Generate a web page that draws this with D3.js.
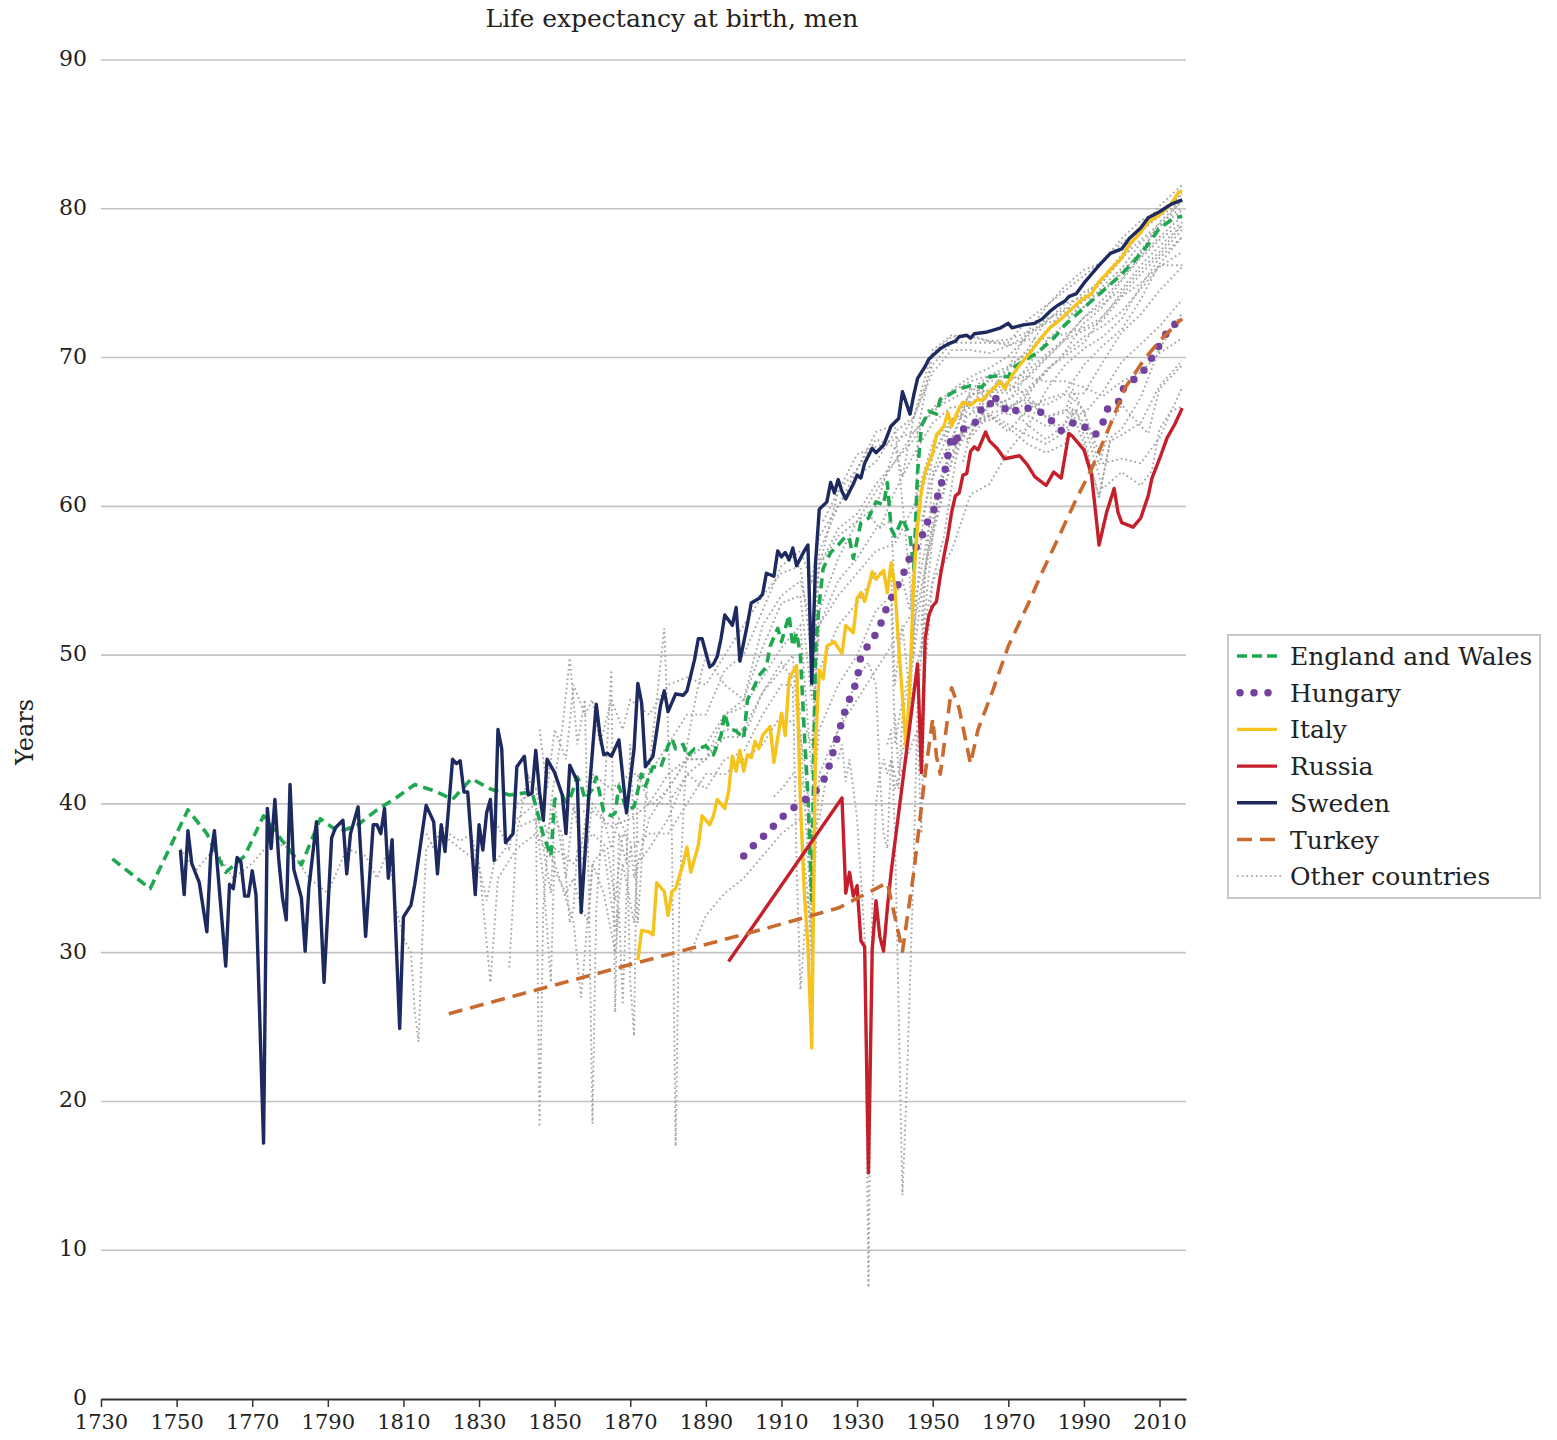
<!DOCTYPE html>
<html>
<head>
<meta charset="utf-8">
<script src="https://cdn.jsdelivr.net/npm/d3@7"></script>
<style>
  body { margin: 0; background: #fff; }
  svg text { font-family: "DejaVu Serif", serif; fill: #222; }
</style>
</head>
<body>
<svg width="1557" height="1440"></svg>
<script>
// ---- data: [year, life expectancy of men] ----
var sweden = [[1751,36.9],[1752,33.9],[1753,38.2],[1754,36.0],[1756,34.7],[1758,31.4],[1759,36.5],[1760,38.2],[1763,29.1],[1764,34.6],[1765,34.3],[1766,36.4],[1767,36.1],[1768,33.8],[1769,33.8],[1770,35.5],[1771,33.9],[1773,17.2],[1774,39.7],[1775,37.0],[1776,40.3],[1777,36.3],[1778,33.7],[1779,32.2],[1780,41.3],[1781,35.6],[1783,33.7],[1784,30.1],[1785,34.4],[1787,38.8],[1789,28.0],[1791,37.7],[1792,38.4],[1794,38.9],[1795,35.3],[1796,38.0],[1798,39.8],[1800,31.1],[1802,38.6],[1803,38.6],[1804,38.0],[1805,39.7],[1806,35.0],[1807,37.6],[1809,24.9],[1810,32.4],[1812,33.2],[1813,34.6],[1816,39.9],[1818,38.8],[1819,35.3],[1820,38.6],[1821,36.8],[1823,43.0],[1824,42.7],[1825,42.9],[1826,40.8],[1827,40.8],[1829,33.9],[1830,38.6],[1831,36.9],[1832,39.4],[1833,40.3],[1834,36.2],[1835,45.0],[1836,43.7],[1837,37.4],[1839,38.0],[1840,42.5],[1842,43.2],[1843,40.6],[1844,40.7],[1845,43.6],[1846,40.8],[1847,38.9],[1848,43.0],[1850,42.1],[1852,40.6],[1853,38.0],[1854,42.6],[1856,41.5],[1857,32.7],[1859,40.4],[1861,46.7],[1862,44.6],[1863,43.3],[1864,43.4],[1865,43.2],[1867,44.3],[1869,39.4],[1871,43.7],[1872,48.1],[1873,46.8],[1874,42.5],[1876,43.2],[1878,46.6],[1879,47.6],[1880,46.2],[1882,47.4],[1884,47.3],[1885,47.6],[1887,49.7],[1888,51.1],[1889,51.1],[1891,49.2],[1892,49.4],[1893,49.9],[1894,51.1],[1895,52.7],[1897,52.0],[1898,53.2],[1899,49.6],[1901,52.1],[1902,53.5],[1904,53.8],[1905,54.1],[1906,55.5],[1908,55.3],[1909,57.0],[1910,56.6],[1911,56.9],[1912,56.4],[1913,57.2],[1914,56.0],[1916,57.0],[1917,57.4],[1918,48.1],[1919,56.2],[1920,59.8],[1922,60.3],[1923,61.6],[1924,60.9],[1925,61.8],[1926,61.0],[1927,60.5],[1929,61.5],[1930,62.1],[1931,61.9],[1932,62.9],[1934,63.9],[1935,63.6],[1937,64.1],[1939,65.4],[1941,65.9],[1942,67.7],[1944,66.2],[1945,67.5],[1946,68.6],[1948,69.4],[1949,69.9],[1952,70.6],[1954,70.9],[1956,71.1],[1957,71.4],[1959,71.5],[1960,71.3],[1961,71.6],[1964,71.7],[1968,72.0],[1970,72.3],[1971,72.0],[1974,72.2],[1977,72.3],[1979,72.6],[1981,73.1],[1983,73.5],[1985,73.8],[1986,74.1],[1988,74.3],[1990,75.0],[1992,75.6],[1994,76.2],[1997,77.0],[2000,77.3],[2002,78.0],[2005,78.7],[2007,79.4],[2010,79.8],[2013,80.3],[2016,80.6]];

var englandWales = [[1733,36.3],[1743,34.3],[1753,39.6],[1758,38.0],[1763,35.4],[1768,36.5],[1773,39.2],[1778,37.5],[1783,35.9],[1788,39.0],[1793,38.1],[1798,38.6],[1803,39.6],[1808,40.4],[1813,41.3],[1818,40.9],[1823,40.3],[1828,41.7],[1833,41.0],[1838,40.6],[1844,40.8],[1846,38.9],[1847,37.9],[1849,36.5],[1850,40.3],[1852,40.6],[1853,40.1],[1854,40.3],[1856,41.8],[1857,41.3],[1858,40.3],[1860,41.0],[1861,41.8],[1863,39.4],[1865,39.2],[1866,39.4],[1867,41.2],[1869,39.6],[1871,39.8],[1873,42.0],[1874,41.2],[1876,42.5],[1878,42.4],[1880,43.9],[1881,44.4],[1882,43.7],[1884,44.0],[1885,43.2],[1887,43.7],[1888,43.7],[1890,43.9],[1892,43.3],[1894,44.6],[1895,46.1],[1896,45.1],[1898,44.9],[1900,44.4],[1901,47.0],[1903,48.0],[1904,48.6],[1906,49.2],[1907,50.6],[1909,51.8],[1910,50.9],[1912,52.7],[1913,50.6],[1914,51.5],[1915,50.0],[1916,45.0],[1917,40.5],[1918,33.5],[1919,50.5],[1920,53.5],[1921,55.8],[1923,56.9],[1925,57.4],[1927,58.0],[1928,57.8],[1929,56.5],[1931,58.9],[1933,59.2],[1935,60.3],[1937,60.1],[1938,61.6],[1939,58.5],[1940,58.0],[1942,59.2],[1944,58.0],[1945,55.8],[1946,62.3],[1947,65.4],[1949,66.4],[1951,66.2],[1952,67.2],[1955,67.6],[1957,67.9],[1960,68.1],[1963,68.0],[1965,68.7],[1968,68.8],[1970,68.7],[1971,69.3],[1975,69.9],[1978,70.4],[1982,71.3],[1985,72.2],[1989,73.1],[1992,73.8],[1996,74.7],[2000,75.6],[2003,76.4],[2007,77.6],[2010,78.7],[2014,79.4],[2016,79.5]];

var hungary = [[1900,36.5],[1903,37.3],[1906,38.0],[1909,38.8],[1911,39.3],[1914,39.9],[1917,40.4],[1920,41.1],[1922,42.0],[1923,42.9],[1925,44.7],[1927,46.4],[1930,48.3],[1931,50.0],[1934,51.0],[1936,51.9],[1937,52.7],[1939,53.8],[1940,54.4],[1942,55.2],[1943,56.1],[1945,57.0],[1947,57.8],[1948,58.7],[1950,59.5],[1951,60.4],[1952,61.3],[1953,62.1],[1954,63.4],[1955,64.8],[1956,64.0],[1957,65.2],[1959,65.2],[1962,65.8],[1963,66.7],[1965,66.7],[1966,67.5],[1968,66.8],[1971,66.2],[1973,66.7],[1975,66.6],[1978,66.5],[1980,65.9],[1982,65.7],[1984,65.1],[1987,65.6],[1988,65.7],[1991,65.2],[1993,64.8],[1995,65.6],[1996,66.5],[1999,66.9],[2000,67.8],[2003,68.5],[2005,68.8],[2007,69.6],[2009,70.4],[2011,71.3],[2013,72.1],[2016,72.5]];

var italy = [[1872,29.5],[1873,31.5],[1875,31.4],[1876,31.2],[1877,34.7],[1879,34.1],[1880,32.5],[1881,34.1],[1882,34.3],[1884,36.0],[1885,37.1],[1886,35.4],[1888,37.2],[1889,39.2],[1891,38.6],[1892,39.2],[1893,40.3],[1895,39.7],[1896,40.8],[1897,43.2],[1898,42.2],[1899,43.6],[1900,42.2],[1901,43.3],[1902,43.1],[1903,44.2],[1904,43.7],[1905,44.6],[1907,45.2],[1908,42.8],[1910,46.1],[1911,44.6],[1912,48.4],[1914,49.3],[1915,40.2],[1916,34.2],[1917,30.5],[1918,23.6],[1919,44.0],[1920,49.0],[1921,48.4],[1922,50.6],[1924,50.9],[1926,50.1],[1927,52.0],[1929,51.5],[1930,53.8],[1931,54.2],[1932,53.6],[1934,55.6],[1935,55.1],[1937,55.7],[1938,54.2],[1939,56.2],[1940,54.6],[1941,50.6],[1943,43.7],[1944,48.4],[1945,55.1],[1946,58.7],[1947,61.0],[1948,62.3],[1950,63.6],[1951,64.8],[1953,65.4],[1954,66.3],[1955,65.4],[1957,66.6],[1958,67.0],[1960,66.8],[1962,67.2],[1963,67.1],[1965,67.7],[1966,67.9],[1968,68.4],[1969,67.9],[1971,68.8],[1973,69.5],[1976,70.4],[1978,71.1],[1981,72.0],[1984,72.6],[1986,73.1],[1989,73.8],[1992,74.3],[1994,75.1],[1997,75.9],[2000,76.7],[2002,77.6],[2005,78.4],[2007,79.1],[2010,79.6],[2013,80.3],[2015,81.1],[2016,81.2]];

var russia = [[1896,29.4],[1926,40.4],[1927,34.0],[1928,35.4],[1929,33.8],[1930,34.5],[1931,30.8],[1932,30.4],[1933,15.2],[1934,30.2],[1935,33.5],[1936,31.1],[1937,30.1],[1938,33.0],[1939,35.4],[1946,49.4],[1947,42.1],[1948,51.1],[1949,52.7],[1950,53.3],[1951,53.6],[1952,55.3],[1953,56.7],[1954,58.0],[1955,59.6],[1956,60.7],[1957,60.9],[1958,62.1],[1959,62.2],[1960,63.7],[1961,64.0],[1962,63.8],[1964,65.0],[1965,64.4],[1967,63.9],[1969,63.2],[1971,63.3],[1973,63.4],[1975,62.8],[1977,62.0],[1978,61.8],[1980,61.4],[1982,62.3],[1983,62.1],[1984,61.9],[1986,64.9],[1987,64.7],[1990,63.8],[1992,62.1],[1993,59.8],[1994,57.4],[1996,59.6],[1998,61.2],[1999,59.6],[2000,58.9],[2003,58.6],[2004,58.9],[2005,59.2],[2007,60.7],[2008,61.9],[2010,63.2],[2012,64.6],[2014,65.5],[2016,66.6]];

var turkey = [[1822,25.9],[1870,29.2],[1904,31.5],[1925,33.0],[1938,34.7],[1942,30.1],[1945,35.4],[1948,42.0],[1950,45.7],[1951,43.2],[1952,42.0],[1955,47.8],[1957,46.4],[1960,42.7],[1962,45.0],[1966,47.7],[1970,50.6],[1975,53.3],[1979,55.6],[1984,58.3],[1988,60.5],[1992,62.5],[1997,65.5],[2001,68.0],[2006,69.9],[2010,71.1],[2015,72.4],[2016,72.6]];

// other countries (grey dotted)
var finland = [[1751,37],[1755,35.5],[1760,37],[1765,35],[1770,36],[1775,37.5],[1780,37],[1785,35],[1790,34],[1795,37],[1800,36.5],[1803,35],[1806,37],[1808,33],[1810,31],[1812,30],[1813,26],[1814,24],[1815,31],[1816,37],[1820,38],[1825,37],[1830,36],[1833,28],[1835,35],[1840,37],[1845,38],[1850,36],[1855,32],[1857,27],[1860,36],[1863,34],[1866,30],[1867,33],[1868,26.5],[1869,34],[1870,37],[1875,38],[1880,38],[1885,40],[1890,42],[1895,42],[1900,43],[1905,44],[1910,46],[1915,45],[1918,32],[1919,42],[1920,45],[1925,48],[1930,50],[1935,53],[1939,54],[1940,44],[1942,47],[1944,49],[1945,52],[1950,58.5],[1955,63],[1960,65.5],[1965,65.8],[1970,66.5],[1975,67.4],[1980,69.2],[1985,70.1],[1990,71],[1995,72.8],[2000,74.2],[2005,75.6],[2010,76.9],[2016,78.6]];
var denmark = [[1835,38.5],[1838,37],[1840,40],[1845,41],[1848,38],[1850,40],[1853,35],[1855,40],[1857,37],[1860,42],[1865,41],[1870,42],[1875,42],[1880,44],[1885,46],[1890,46],[1895,49],[1900,50],[1905,53],[1910,56],[1915,57],[1918,55],[1920,58],[1925,60],[1930,62],[1935,63],[1940,65],[1945,66],[1950,69],[1955,70.5],[1960,70.5],[1965,70.3],[1970,70.8],[1975,71.2],[1980,71.3],[1985,71.6],[1990,72],[1995,72.7],[2000,74.4],[2005,75.9],[2010,77.1],[2016,78.9]];
var norway = [[1846,45],[1848,41],[1850,45],[1853,43],[1855,48],[1858,46],[1860,47],[1862,44],[1865,47],[1868,45],[1870,47],[1875,46],[1880,48],[1885,48.5],[1890,48],[1895,50],[1900,52],[1905,54],[1910,55.5],[1915,56],[1918,50],[1920,57],[1925,60],[1930,62.5],[1935,64.5],[1940,64],[1942,62],[1945,66],[1950,70.5],[1955,71.5],[1960,71.4],[1965,71.1],[1970,71.2],[1975,71.7],[1980,72.3],[1985,72.7],[1990,73.4],[1995,74.8],[2000,76],[2005,77.7],[2010,78.8],[2016,80.6]];
var iceland = [[1838,29],[1840,38],[1843,42],[1845,40],[1846,18.3],[1847,33],[1849,40],[1852,45],[1854,49.8],[1856,44],[1858,47],[1859,35],[1860,18.5],[1861,33],[1863,40],[1865,49],[1866,26],[1867,38],[1869,36],[1870,44],[1872,32],[1874,40],[1877,47],[1879,51.8],[1881,38],[1882,17],[1883,34],[1885,44],[1888,48],[1890,50],[1895,48],[1900,47],[1905,52],[1910,54],[1915,55],[1918,52],[1920,56],[1925,58],[1930,59],[1935,60],[1940,64],[1945,66],[1950,69.5],[1955,71],[1960,71],[1965,71],[1970,71],[1975,72.5],[1980,73.5],[1985,74.5],[1990,75.5],[1995,76.5],[2000,78],[2005,79.2],[2010,79.8],[2016,81]];
var france = [[1816,38],[1818,37],[1820,38.5],[1822,38],[1825,37.5],[1828,38],[1832,33.5],[1834,36],[1837,37],[1840,39],[1845,40],[1847,37],[1849,34],[1850,39],[1852,38],[1854,32],[1855,33],[1856,37],[1858,36],[1860,40],[1863,39],[1865,37],[1867,39],[1869,38],[1870,28],[1871,24.4],[1872,42],[1875,40],[1880,40],[1885,42],[1890,41],[1895,43],[1900,43.5],[1905,46],[1910,48],[1913,48],[1914,36],[1915,27.5],[1916,31],[1917,34],[1918,29],[1919,44],[1920,49],[1925,52],[1930,53.5],[1935,55.5],[1939,55.5],[1940,48],[1942,52],[1944,47],[1945,51],[1947,58],[1950,63.5],[1955,65.5],[1960,67],[1965,67.6],[1970,68.4],[1975,69.1],[1980,70.2],[1985,71.3],[1990,72.7],[1995,73.9],[2000,75.3],[2005,76.8],[2010,78.1],[2016,79.5]];
var netherlands = [[1850,35.5],[1853,34],[1855,35],[1857,33],[1859,32],[1860,36],[1863,37],[1866,31.5],[1868,36],[1871,32],[1872,36],[1875,37],[1880,39],[1885,42],[1890,43],[1895,46],[1900,47],[1905,50.5],[1910,53.5],[1915,54],[1918,47],[1920,56],[1925,61],[1930,62.5],[1935,65],[1940,65.5],[1944,55],[1945,50],[1946,65],[1950,70.3],[1955,71.4],[1960,71.5],[1965,71.1],[1970,70.8],[1975,71.5],[1980,72.6],[1985,73],[1990,73.8],[1995,74.6],[2000,75.6],[2005,77.2],[2010,78.8],[2016,79.9]];
var belgium = [[1841,38.5],[1845,39],[1847,35],[1849,28],[1850,37],[1855,36],[1860,38],[1864,37],[1866,33.5],[1868,38],[1870,37.5],[1871,35],[1875,39],[1880,41],[1885,43],[1890,43],[1895,45],[1900,45],[1905,47.5],[1910,49],[1913,50],[1914,46],[1916,43],[1918,38],[1919,48],[1920,52],[1925,55],[1930,56.5],[1935,58.5],[1939,59],[1940,54],[1942,55],[1944,53],[1946,60],[1950,63.5],[1955,65.8],[1960,67.5],[1965,67.8],[1970,67.8],[1975,68.6],[1980,69.9],[1985,71.2],[1990,72.7],[1995,73.6],[2000,74.6],[2005,76.2],[2010,77.5],[2016,78.9]];
var switzerland = [[1876,40],[1880,41],[1885,43],[1890,44],[1895,46],[1900,46.5],[1905,48.5],[1910,50.5],[1915,52],[1918,42],[1919,50],[1920,53],[1925,56.5],[1930,59],[1935,61],[1940,63],[1945,64.5],[1950,66.6],[1955,67.8],[1960,68.7],[1965,69.3],[1970,70.1],[1975,71.4],[1980,72.4],[1985,73.6],[1990,74.1],[1995,75.4],[2000,76.9],[2005,78.6],[2010,80.2],[2016,81.6]];
var spain = [[1908,40.5],[1910,41],[1913,42],[1915,41.5],[1917,41],[1918,30],[1919,38.5],[1920,39],[1922,42],[1925,45],[1928,47],[1930,48.5],[1933,49.5],[1935,48],[1936,42],[1937,38],[1938,37],[1939,43],[1941,41],[1942,46],[1945,50],[1947,54],[1950,59],[1955,64.5],[1960,67.3],[1965,68.6],[1970,69.2],[1975,70.5],[1980,72.5],[1985,73.3],[1990,73.4],[1995,74.4],[2000,75.8],[2005,77],[2010,79.1],[2016,80.5]];
var scotland = [[1855,39.5],[1860,39.5],[1865,38.5],[1870,39],[1875,40],[1880,42],[1885,43],[1890,43],[1895,44.5],[1900,44.5],[1905,47.5],[1910,49.5],[1914,48],[1915,46],[1918,44],[1920,52],[1925,54],[1930,55.5],[1935,57],[1940,57.5],[1945,60],[1950,64.3],[1955,65.8],[1960,66.2],[1965,66.7],[1970,67.2],[1975,67.9],[1980,69.1],[1985,70.3],[1990,71.4],[1995,72.1],[2000,73.1],[2005,74.6],[2010,76.1],[2016,77.1]];
var slovenia = [[1886,30],[1890,32.5],[1895,34],[1900,35],[1905,36.5],[1910,38],[1915,39],[1918,31],[1920,42],[1925,45],[1930,47],[1935,49],[1940,51],[1945,53],[1950,60],[1955,63.5],[1960,65.5],[1965,66.1],[1970,65],[1975,66.5],[1980,67.2],[1985,67.6],[1990,69.5],[1995,70.8],[2000,71.9],[2005,73.9],[2010,76.3],[2016,78.1]];
var japan = [[1947,50.1],[1948,55.6],[1950,58],[1952,61.9],[1955,63.6],[1958,65],[1960,65.3],[1965,67.7],[1970,69.3],[1975,71.7],[1980,73.4],[1985,74.8],[1990,75.9],[1995,76.4],[2000,77.7],[2005,78.6],[2010,79.6],[2016,81]];
var usa = [[1933,59.5],[1936,58.5],[1940,61],[1945,63.5],[1950,65.6],[1955,66.7],[1960,66.6],[1965,66.8],[1970,67.1],[1975,68.8],[1980,70],[1985,71.2],[1990,71.8],[1995,72.5],[2000,74.1],[2005,75],[2010,76.2],[2016,76.2]];
var canada = [[1921,56.5],[1925,58.5],[1930,59.5],[1935,61.5],[1940,63],[1945,65],[1950,66.3],[1955,67.7],[1960,68.4],[1965,68.8],[1970,69.4],[1975,70.3],[1980,71.8],[1985,73.2],[1990,74.4],[1995,75.1],[2000,76.7],[2005,77.9],[2010,79],[2016,80.1]];
var australia = [[1921,59],[1925,61],[1930,63.5],[1935,64],[1940,64.5],[1945,65],[1950,66.5],[1955,67.2],[1960,67.9],[1965,67.7],[1970,67.6],[1975,69.4],[1980,71.1],[1985,72.3],[1990,73.9],[1995,75.1],[2000,76.6],[2005,78.5],[2010,79.5],[2016,80.5]];
var portugal = [[1940,46],[1941,42],[1945,48],[1950,55],[1955,57],[1960,60.8],[1965,61.5],[1970,63.7],[1975,65.3],[1980,67.8],[1985,69.5],[1990,70.6],[1995,71.4],[2000,72.6],[2005,74.8],[2010,76.7],[2016,78.1]];
var austria = [[1947,59],[1950,62],[1955,64.5],[1960,65.4],[1965,66.3],[1970,66.5],[1975,67.7],[1980,69],[1985,70.4],[1990,72.3],[1995,73.4],[2000,75.2],[2005,76.7],[2010,77.9],[2016,79.1]];
var czechia = [[1950,62.3],[1955,65.5],[1960,67.6],[1965,67.5],[1970,66.1],[1975,67],[1980,66.8],[1985,67.5],[1990,67.6],[1995,69.7],[2000,71.7],[2005,72.9],[2010,74.5],[2016,76.1]];
var poland = [[1958,63],[1960,64.9],[1965,66.8],[1970,66.7],[1975,67.2],[1980,66],[1985,66.5],[1990,66.2],[1995,67.7],[2000,69.7],[2005,70.9],[2010,72.1],[2016,73.9]];
var bulgaria = [[1947,52],[1950,62],[1955,64.5],[1960,67.8],[1965,68.8],[1970,68.6],[1975,68.7],[1980,68.4],[1985,68.4],[1990,68],[1995,67.4],[2000,68.4],[2005,69],[2010,70.3],[2016,71.3]];
var lithuania = [[1959,64.5],[1965,67],[1970,66.7],[1975,66.1],[1980,65.4],[1985,65.5],[1987,67.3],[1990,66.4],[1994,62.8],[1997,65.5],[2000,66.8],[2005,65.4],[2007,64.9],[2010,67.9],[2016,69.5]];
var latvia = [[1959,65.3],[1965,66],[1970,65.3],[1975,64.2],[1980,63.6],[1985,64.2],[1987,66.3],[1990,64.2],[1994,60.7],[1997,64.4],[2000,64.8],[2005,65.6],[2010,68.1],[2016,69.8]];
var estonia = [[1959,64.3],[1965,66.2],[1970,65.5],[1975,64.8],[1980,64.2],[1985,65],[1988,66.6],[1990,64.7],[1994,60.5],[1997,64.6],[2000,65.2],[2005,67.3],[2010,70.6],[2016,73]];
var ukraine = [[1925,43],[1926,44],[1927,41.5],[1928,43],[1929,41],[1930,39],[1931,35],[1932,31],[1933,7.5],[1934,33],[1935,40],[1936,42],[1937,43],[1938,42],[1939,43],[1940,41],[1946,45],[1947,38],[1948,49],[1950,55],[1953,58],[1956,63],[1959,66],[1965,67.5],[1970,66.8],[1975,65.5],[1980,64.5],[1985,65.5],[1987,66.5],[1990,65.6],[1995,61.2],[2000,62.3],[2005,61.4],[2008,62.4],[2010,65.2],[2013,66.4],[2016,66.7]];
var belarus = [[1938,44],[1939,45],[1940,38],[1941,26],[1942,13.7],[1943,20],[1944,28],[1945,36.3],[1946,47],[1948,53],[1950,58],[1955,63],[1959,66.4],[1965,68.5],[1970,68.2],[1975,67.5],[1980,66],[1985,66.3],[1987,67.9],[1990,66.3],[1995,62.9],[2000,63.2],[2005,62.9],[2010,64.6],[2016,68]];

var otherCountries = [finland, denmark, norway, iceland, france, netherlands, belgium, switzerland, spain, scotland, slovenia, japan, usa, canada, australia, portugal, austria, czechia, poland, bulgaria, lithuania, latvia, estonia, ukraine, belarus];

var xTicks = d3.range(1730, 2011, 20);
var yTicks = d3.range(0, 91, 10);

var legendLabels = ["England and Wales", "Hungary", "Italy", "Russia", "Sweden", "Turkey", "Other countries"];

// ---- styles ----
var styles = {
  "England and Wales": {data: englandWales, color: "#1fa84f", width: 3.6, dash: "10,6", cap: "butt"},
  "Hungary": {data: hungary, color: "#7342a0", width: 7.5, dash: "0,14", cap: "round"},
  "Italy": {data: italy, color: "#f6c21c", width: 3.4, dash: null, cap: "butt"},
  "Russia": {data: russia, color: "#c41f2b", width: 3.4, dash: null, cap: "butt"},
  "Sweden": {data: sweden, color: "#1c2a5f", width: 3.4, dash: null, cap: "butt"},
  "Turkey": {data: turkey, color: "#c96a2e", width: 3.6, dash: "14,8", cap: "butt"},
  "Other countries": {color: "#a4a4a4", width: 1.9, dash: "1.7,3", cap: "butt"}
};

var svg = d3.select("svg");

var x = d3.scaleLinear().domain([1730, 2017]).range([101, 1186]);
var y = d3.scaleLinear().domain([0, 90]).range([1399, 60]);

// title
svg.append("text")
  .attr("x", 672).attr("y", 27)
  .attr("text-anchor", "middle")
  .style("font-size", "25px")
  .text("Life expectancy at birth, men");

// y axis title
svg.append("text")
  .attr("transform", "translate(33,732) rotate(-90)")
  .attr("text-anchor", "middle")
  .style("font-size", "24px")
  .text("Years");

// gridlines
svg.append("g").selectAll("line")
  .data(yTicks.filter(function(d){ return d > 0; }))
  .enter().append("line")
  .attr("x1", x(1730)).attr("x2", x(2017))
  .attr("y1", function(d){ return y(d); })
  .attr("y2", function(d){ return y(d); })
  .style("stroke", "#c4c4c4")
  .style("stroke-width", 1.6);

// y axis labels
var yAxis = svg.append("g")
  .attr("transform", "translate(" + x(1730) + ",0)")
  .call(d3.axisLeft(y).tickValues(yTicks).tickSize(0).tickPadding(14));
yAxis.select(".domain").remove();
yAxis.selectAll("text")
  .style("font-family", "DejaVu Serif, serif")
  .style("font-size", "22px")
  .attr("dy", "0.25em")
  .style("fill", "#222");

// x axis
var xAxis = svg.append("g")
  .attr("transform", "translate(0," + y(0) + ")")
  .call(d3.axisBottom(x).tickValues(xTicks).tickFormat(d3.format("d")).tickSize(8).tickSizeOuter(0).tickPadding(7));
xAxis.select(".domain").style("stroke", "#333").style("stroke-width", 2);
xAxis.selectAll(".tick line").style("stroke", "#333").style("stroke-width", 1.5);
xAxis.selectAll("text")
  .style("font-family", "DejaVu Serif, serif")
  .style("font-size", "21px")
  .style("fill", "#222");

var line = d3.line()
  .x(function(d){ return x(d[0]); })
  .y(function(d){ return y(d[1]); });

// other countries
var og = styles["Other countries"];
svg.append("g").selectAll("path")
  .data(otherCountries)
  .enter().append("path")
  .attr("d", line)
  .style("fill", "none")
  .style("stroke", og.color)
  .style("stroke-width", og.width)
  .style("stroke-dasharray", og.dash);

// highlighted countries
["England and Wales", "Hungary", "Italy", "Russia", "Sweden", "Turkey"].forEach(function(name){
  var s = styles[name];
  svg.append("path")
    .datum(s.data)
    .attr("d", line)
    .style("fill", "none")
    .style("stroke", s.color)
    .style("stroke-width", s.width)
    .style("stroke-linejoin", "round")
    .style("stroke-linecap", s.cap)
    .style("stroke-dasharray", s.dash);
});

// legend
var legend = svg.append("g");
legend.append("rect")
  .attr("x", 1228).attr("y", 635)
  .attr("width", 312).attr("height", 263)
  .style("fill", "#fff")
  .style("stroke", "#c8c8c8")
  .style("stroke-width", 2);

var rows = legend.selectAll("g.row")
  .data(legendLabels)
  .enter().append("g")
  .attr("class", "row")
  .attr("transform", function(d, i){ return "translate(0," + (656 + i * 36.7) + ")"; });

rows.append("line")
  .attr("x1", function(d){ return d == "Hungary" ? 1240 : 1237; })
  .attr("x2", function(d){ return d == "Hungary" ? 1272 : (d == "Other countries" ? 1282 : 1277); })
  .attr("y1", 0).attr("y2", 0)
  .style("stroke", function(d){ return styles[d].color; })
  .style("stroke-width", function(d){ return d == "Hungary" ? 7.5 : (d == "Other countries" ? 1.8 : 3.4); })
  .style("stroke-linecap", function(d){ return styles[d].cap; })
  .style("stroke-dasharray", function(d){
    if (d == "England and Wales") return "10,5";
    if (d == "Hungary") return "0,14";
    if (d == "Turkey") return "15,8";
    return styles[d].dash;
  });

rows.append("text")
  .attr("x", 1290).attr("y", 9)
  .style("font-size", "25px")
  .text(function(d){ return d; });
</script>
</body>
</html>
